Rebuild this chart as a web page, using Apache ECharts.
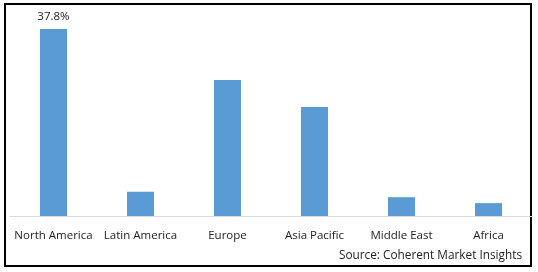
<!DOCTYPE html>
<html><head><meta charset="utf-8">
<script src="https://cdn.jsdelivr.net/npm/echarts@6/dist/echarts.min.js"></script>
<style>html,body{margin:0;padding:0;background:#fff}#c{width:538px;height:272px}</style>
</head><body><div id="c"></div>
<script>
const categories = ['North America', 'Latin America', 'Europe', 'Asia Pacific', 'Middle East', 'Africa'];
const values = [37.8, 4.9, 27.5, 22.0, 3.8, 2.6];
const labelledIndex = 0;
const sourceText = 'Source: Coherent Market Insights';

const chart = echarts.init(document.getElementById('c'), null, {renderer: 'canvas'});
const FONT = 'Open Sans';
chart.setOption({
  animation: false,
  grid: {left: 10, right: 6, top: 18, bottom: 56, containLabel: false},
  xAxis: {
    type: 'category', data: categories,
    axisLine: {show: true, lineStyle: {color: '#D9D9D9', width: 1}},
    axisTick: {show: false},
    axisLabel: {color: '#222', fontFamily: FONT, fontSize: 11.5, margin: 14, interval: 0}
  },
  yAxis: {type: 'value', min: 0, max: 40, show: false, splitLine: {show: false}},
  series: [{
    type: 'bar', data: values.map((v, i) => ({
      value: v,
      label: {show: i === labelledIndex, position: 'top', distance: 6, formatter: p => p.value + '%',
        color: '#222', fontFamily: FONT, fontSize: 11.5}
    })),
    barWidth: 27,
    itemStyle: {color: '#5B9BD5'}
  }],
  graphic: [
    {type: 'rect', shape: {x: 5, y: 4, width: 526, height: 262}, style: {fill: 'none', stroke: '#000', lineWidth: 2}, silent: true},
    {type: 'text', right: 16, top: 250, style: {text: sourceText, fill: '#222', font: '11.8px "' + FONT + '"'}}
  ]
});
</script></body></html>
